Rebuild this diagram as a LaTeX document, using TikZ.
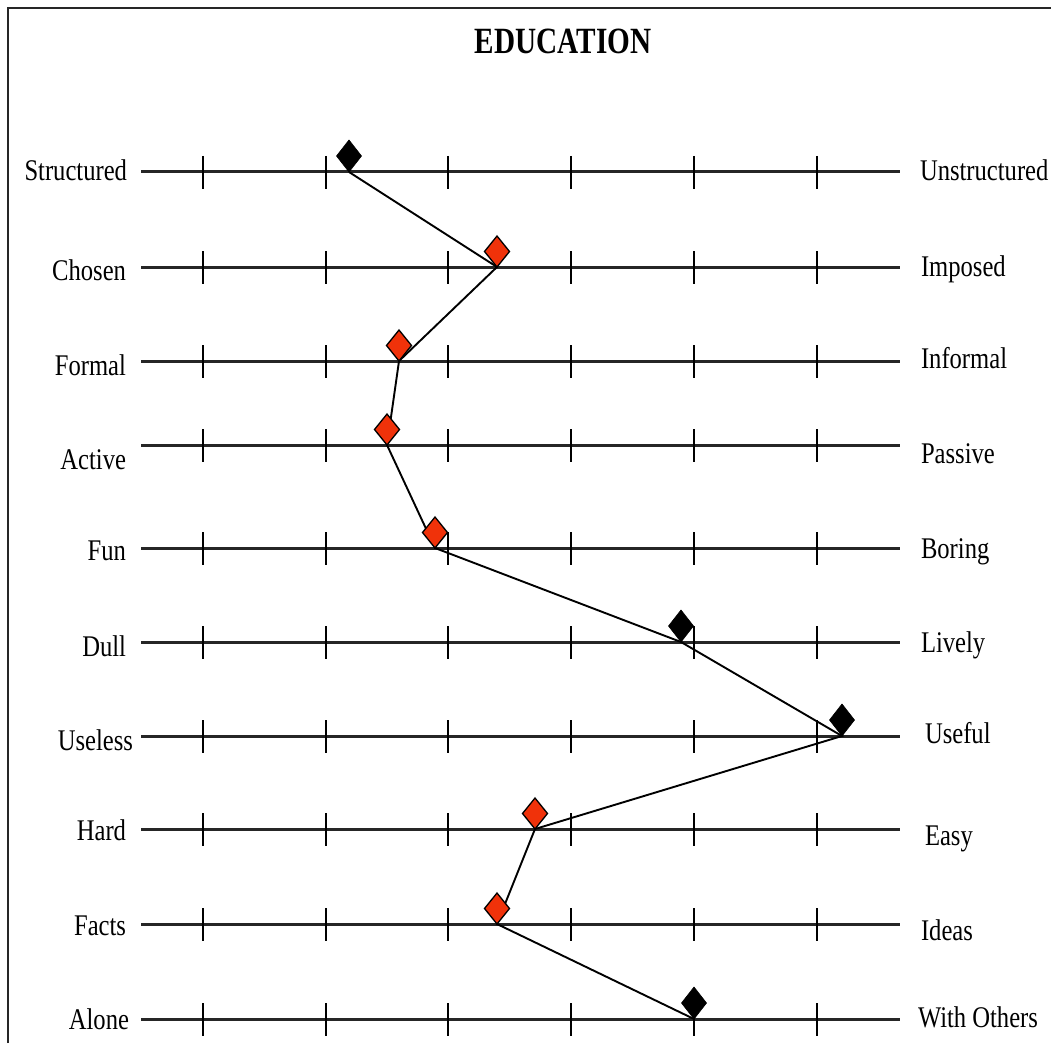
\documentclass[tikz,border=0pt]{standalone}
\usepackage{fontspec}
\setmainfont{Liberation Serif}[FakeStretch=0.82]
\newfontfamily\titlefont{Liberation Serif}[FakeStretch=0.79]
\usetikzlibrary{shapes.geometric}
\definecolor{mkred}{RGB}{240,50,10}
\begin{document}
\begin{tikzpicture}[x=1pt,y=-1pt,
  frame/.style={line width=2.4pt, draw=black!85},
  axis/.style={line width=3pt, draw=black!85},
  scaletick/.style={line width=1.5pt, draw=black},
  conn/.style={line width=1.9pt, draw=black},
  lab/.style={inner sep=0pt, outer sep=0pt, font=\fontsize{30}{36}\selectfont},
  blackmark/.style={diamond, fill=black, draw=black, line width=0.6pt,
    minimum width=25pt, minimum height=32pt, inner sep=0pt, outer sep=0pt, anchor=south},
  redmark/.style={diamond, fill=mkred, draw=black, line width=1.3pt,
    minimum width=25pt, minimum height=31pt, inner sep=0pt, outer sep=0pt, anchor=south}]
\useasboundingbox (0,0) rectangle (1051,1043);
\fill[white] (0,0) rectangle (1051,1043);
% frame
\draw[frame] (8,1043) -- (8,8) -- (1051,8);
% title
\node[inner sep=0pt, font=\titlefont\bfseries\fontsize{37}{42}\selectfont] (title) at (563,41) {EDUCATION};
% scales
\foreach \i/\y/\lt/\lx/\ly/\rt/\rx/\ry/\px/\st in {
  1/172/Structured/127/170/Unstructured/920/170/349/blackmark,
  2/267/Chosen/126/270/Imposed/921/266/497/redmark,
  3/361/Formal/126/365/Informal/921/358/399/redmark,
  4/445/Active/126/459/Passive/921/453/387/redmark,
  5/548/Fun/126/550/Boring/921/548/435/redmark,
  6/642/Dull/126/646/Lively/921/642/681/blackmark,
  7/736/Useless/133/740/Useful/925/733/842/blackmark,
  8/829/Hard/126/830/Easy/925/835/535/redmark,
  9/924/Facts/126/925/Ideas/921/930/497/redmark,
  10/1019/Alone/129/1019/With Others/918/1017/694/blackmark}{
  \coordinate (L\i) at (141,\y);
  \coordinate (R\i) at (900,\y);
  \coordinate (P\i) at (\px,\y);
  \node[lab, anchor=base east] (ll\i) at (\lx,\ly+10) {\lt};
  \node[lab, anchor=base west] (rl\i) at (\rx,\ry+10) {\rt};
  \draw[axis] (L\i) -- (R\i);
  \foreach \tx in {203,326,448,571,694,817}{
    \draw[scaletick] (\tx,\y-16) -- (\tx,\y+17);
  }
}
% profile line
\draw[conn] (P1) \foreach \i in {2,...,10}{ -- (P\i)};
% markers
\foreach \i/\st in {1/blackmark,2/redmark,3/redmark,4/redmark,5/redmark,
  6/blackmark,7/blackmark,8/redmark,9/redmark,10/blackmark}{
  \node[\st] (d\i) at (P\i) {};
}
\end{tikzpicture}
\end{document}
